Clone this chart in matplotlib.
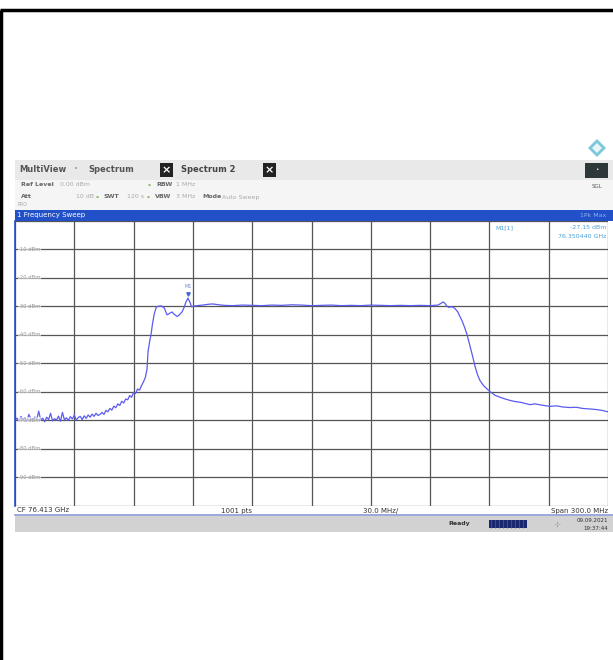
import matplotlib
matplotlib.use('Agg')
import matplotlib.pyplot as plt
from matplotlib.patches import Rectangle, Polygon

plt.rcParams['font.family'] = ['DejaVu Sans']

# trace: offset from start frequency (MHz) and level (dBm)
freq_mhz = [0, 1, 2, 3, 4, 5, 6, 7, 8, 9, 10, 11, 12, 13, 14, 15, 16, 17, 18, 19,
            20, 21, 22, 23, 24, 25, 26, 27, 28, 29, 30, 31, 32, 33, 34, 35, 36, 37, 38, 39,
            40, 41, 42, 43, 44, 45, 46, 47, 48, 49, 50, 51, 52, 53, 54, 55, 56, 57, 58, 59,
            60, 61, 62, 63, 64, 65, 66, 66.8, 67.3, 68.2, 68.8, 69.6, 70.5, 71.5, 72.5, 74.0,
            75.5, 76.9, 78.0, 79.4, 80.5, 82.0, 83.2, 84.5, 85.5, 86.5, 87.5, 88.5, 89.3, 90.1,
            92, 95, 98, 100, 103, 106, 110, 115, 120, 125, 130, 135, 140, 145, 150, 155, 160,
            165, 170, 175, 180, 185, 190, 195, 200, 205, 210, 214, 215.5, 216.5, 217.5, 218.5,
            219.5, 220.5, 221.5, 222.6, 224, 225, 226.1, 227.5, 228.7, 230, 231.5, 232.7, 234,
            235.2, 237, 238.8, 240.5, 242.8, 245, 247.5, 250.4, 253, 256, 260.5, 263, 266,
            270.6, 274, 277, 280.8, 284, 287, 290.9, 294, 297, 300]
level_dbm = [-70.0, -69.2, -70.3, -68.6, -69.8, -69.0, -70.4, -67.9, -69.5, -70.1,
             -68.8, -69.6, -66.8, -69.9, -69.2, -70.5, -68.9, -69.7, -67.5, -70.2,
             -69.4, -69.9, -68.5, -70.3, -67.2, -69.8, -69.1, -70.0, -68.7, -69.5,
             -68.2, -69.9, -69.0, -68.6, -69.7, -68.4, -69.3, -68.1, -68.9, -67.8,
             -68.6, -67.5, -68.3, -67.9, -67.2, -67.9, -66.5, -67.0, -65.8, -66.4,
             -65.0, -65.6, -64.2, -64.8, -63.3, -63.9, -62.5, -62.8, -61.3, -61.9,
             -60.2, -60.6, -59.0, -59.4, -57.8, -56.5, -54.8, -52.0, -46.0, -42.0,
             -40.0, -36.0, -32.5, -30.3, -30.0, -29.9, -30.6, -33.0, -32.6, -32.0,
             -32.8, -33.6, -33.0, -32.0, -30.5, -28.5, -27.15, -28.6, -30.2, -30.0,
             -29.8, -29.6, -29.3, -29.2, -29.5, -29.7, -29.8, -29.6, -29.7, -29.8,
             -29.6, -29.7, -29.5, -29.6, -29.8, -29.7, -29.6, -29.8, -29.7, -29.8,
             -29.6, -29.7, -29.8, -29.7, -29.8, -29.7, -29.8, -29.6, -29.0, -28.5,
             -29.0, -30.0, -30.4, -30.2, -30.3, -30.8, -32.0, -33.5, -35.0, -37.5,
             -40.0, -43.5, -47.5, -51.0, -54.0, -56.0, -57.8, -59.0, -60.0, -61.2,
             -61.8, -62.4, -63.0, -63.4, -63.7, -64.5, -64.2, -64.6, -65.1, -64.9,
             -65.3, -65.5, -65.4, -65.8, -66.0, -66.2, -66.5, -67.0]
y_levels = [-10, -20, -30, -40, -50, -60, -70, -80, -90]
marker_f = 87.5
marker_lvl = -27.15

W, H = 613, 660
fig = plt.figure(figsize=(W / 100, H / 100), dpi=100)

# page overlay in pixel coordinates
bg = fig.add_axes([0, 0, 1, 1])
bg.set_xlim(0, W)
bg.set_ylim(H, 0)
bg.axis('off')

# outer black frame (top + left)
bg.plot([0, W], [9.5, 9.5], color='black', lw=2.5, solid_capstyle='butt')
bg.plot([1, 1], [9.5, H], color='black', lw=2.5, solid_capstyle='butt')

# screenshot header
bg.add_patch(Rectangle((15, 160), W - 15, 20, color='#e9e9e9', lw=0))
bg.add_patch(Rectangle((15, 180), W - 15, 30, color='#f5f5f5', lw=0))
bg.text(19, 170, 'MultiView', fontsize=6, fontweight='bold', color='#555555', va='center')
bg.text(74, 169, '•', fontsize=5, color='#7fa0d0', va='center')
bg.text(88, 170, 'Spectrum', fontsize=6, fontweight='bold', color='#555555', va='center')
for x0 in (160, 263):
    bg.add_patch(Rectangle((x0, 163), 13, 14, color='#222222', lw=0))
    bg.text(x0 + 6.5, 170, '×', fontsize=8, fontweight='bold', color='white',
            ha='center', va='center')
bg.text(181, 170, 'Spectrum 2', fontsize=6, fontweight='bold', color='#444444', va='center')

bg.text(21, 185, 'Ref Level', fontsize=4.5, fontweight='bold', color='#666666', va='center')
bg.text(60, 185, '0.00 dBm', fontsize=4.5, color='#aaaaaa', va='center')
bg.text(148, 185, '●', fontsize=2.5, color='#8fbf6f', va='center')
bg.text(156, 185, 'RBW', fontsize=4.5, fontweight='bold', color='#666666', va='center')
bg.text(176, 185, '1 MHz', fontsize=4.5, color='#aaaaaa', va='center')
bg.text(21, 197, 'Att', fontsize=4.5, fontweight='bold', color='#666666', va='center')
bg.text(76, 197, '10 dB', fontsize=4.5, color='#aaaaaa', va='center')
bg.text(96, 197, '●', fontsize=2.5, color='#8fbf6f', va='center')
bg.text(103, 197, 'SWT', fontsize=4.5, fontweight='bold', color='#666666', va='center')
bg.text(127, 197, '120 s', fontsize=4.5, color='#aaaaaa', va='center')
bg.text(147, 197, '●', fontsize=2.5, color='#8fbf6f', va='center')
bg.text(155, 197, 'VBW', fontsize=4.5, fontweight='bold', color='#666666', va='center')
bg.text(176, 197, '3 MHz', fontsize=4.5, color='#aaaaaa', va='center')
bg.text(202, 197, 'Mode', fontsize=4.5, fontweight='bold', color='#666666', va='center')
bg.text(222, 197, 'Auto Sweep', fontsize=4.5, color='#aaaaaa', va='center')
bg.text(17, 205, 'PRO', fontsize=3.5, color='#aaaaaa', va='center')

# right side icons
bg.add_patch(Polygon([[597, 139], [606, 148], [597, 157], [588, 148]],
                     closed=True, color='#7cc8d8', lw=0))
bg.add_patch(Polygon([[597, 143], [602, 148], [597, 153], [592, 148]],
                     closed=True, color='#e8f6fa', lw=0))
bg.add_patch(Rectangle((585, 163), 23, 15, color='#2f3838', lw=0))
bg.text(596.5, 170, '•', fontsize=4, color='white', ha='center', va='center')
bg.text(596.5, 186, 'SGL', fontsize=4, color='#555555', ha='center', va='center')

# blue title bar
bg.add_patch(Rectangle((15, 210), W - 15, 10.5, color='#2150c8', lw=0))
bg.text(17, 215.5, '1 Frequency Sweep', fontsize=5, color='white', va='center')
bg.text(606, 215.5, '1Pk Max', fontsize=4.5, color='#8fb0f0', ha='right', va='center')

# bottom info line and status bar
bg.text(17, 510.5, 'CF 76.413 GHz', fontsize=5, color='#333333', va='center')
bg.text(221, 510.5, '1001 pts', fontsize=5, color='#333333', va='center')
bg.text(363, 510.5, '30.0 MHz/', fontsize=5, color='#333333', va='center')
bg.text(608, 510.5, 'Span 300.0 MHz', fontsize=5, color='#333333', ha='right', va='center')
bg.plot([15, W], [515, 515], color='#8a9ad8', lw=1.2)
bg.add_patch(Rectangle((15, 516), W - 15, 16, color='#d2d2d2', lw=0))
bg.text(448, 524, 'Ready', fontsize=4.5, fontweight='bold', color='#333333', va='center')
bg.add_patch(Rectangle((489, 520), 38, 8, color='#1a2870', lw=0))
for xs in range(491, 527, 4):
    bg.plot([xs, xs], [520, 528], color='#5a6ab0', lw=0.4)
bg.text(557, 524, '⊹', fontsize=6, color='#6a9a6a', ha='center', va='center')
bg.text(608, 520, '09.09.2021', fontsize=4, color='#333333', ha='right', va='center')
bg.text(608, 528, '19:37:44', fontsize=4, color='#333333', ha='right', va='center')

# diagram area
top_px, bot_px = 220.6, 506
ax = fig.add_axes([15 / W, 1 - bot_px / H, 593 / W, (bot_px - top_px) / H])
ax.set_facecolor('white')
ax.set_xlim(0, 300)
ax.set_ylim(-100, 0)
ax.set_xticks(range(0, 301, 30))
ax.set_yticks(range(-100, 1, 10))
ax.grid(True, color='#555555', lw=0.9)
ax.tick_params(length=0, labelbottom=False, labelleft=False)
for s in ('top', 'right', 'bottom'):
    ax.spines[s].set_visible(False)
ax.spines['left'].set_color('#2150c8')
ax.spines['left'].set_linewidth(1.2)

for lv in y_levels:
    ax.text(1.5, lv, f'{lv} dBm', fontsize=3.8, color='#999999', va='center', ha='left',
            bbox=dict(facecolor='white', edgecolor='none', pad=0.3, alpha=0.6))

ax.plot(freq_mhz, level_dbm, color='#5b5bf0', lw=0.9)
ax.plot([marker_f], [marker_lvl + 1.3], marker='v', color='#4a6ad0', ms=2.5)
ax.text(marker_f, marker_lvl + 3.2, 'M1', fontsize=3.5, color='#6a8ad8', ha='center',
        va='bottom')

ax.text(252, -2.5, 'M1[1]', fontsize=4.5, color='#4aa0d8', ha='right', va='center')
ax.text(299, -2.5, f'{marker_lvl:.2f} dBm', fontsize=4.5, color='#4aa0d8', ha='right',
        va='center')
ax.text(299, -5.6, '76.350440 GHz', fontsize=4.5, color='#4aa0d8', ha='right', va='center')

fig.savefig('out.png', dpi=100)
